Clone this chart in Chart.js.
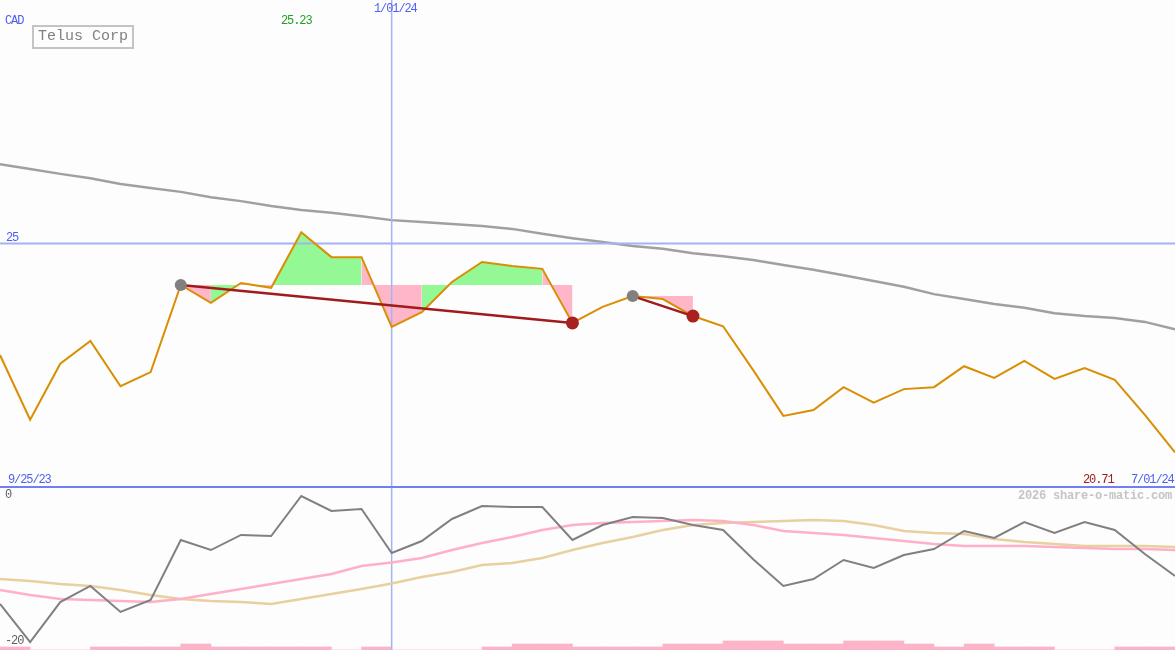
<!DOCTYPE html>
<html>
<head>
<meta charset="utf-8">
<script src="https://cdn.jsdelivr.net/npm/chart.js"></script>
<style>
  body { margin: 0; background: #fcfdfc; }
  #wrap { position: relative; width: 1175px; height: 650px; overflow: hidden; background: #fcfdfc; }
  canvas { position: absolute; left: 0; }
  .lbl { position: absolute; font-family: "Liberation Mono", "DejaVu Sans Mono", monospace; font-size: 12px; line-height: 12px; letter-spacing: -1.1px; white-space: nowrap; }
  .blue { color: #5060f0; }
  #sep { position: absolute; left: 0; top: 486px; width: 1175px; height: 2px; background: #7080f0; }
  #title { position: absolute; left: 32px; top: 25px; width: 94px; height: 20px; border: 2px solid #c4c4c4;
           font-family: "Liberation Mono", monospace; font-size: 15px; line-height: 20px; color: #808080; padding-left: 4px; box-sizing: content-box; }
  #credit { position: absolute; left: 1018px; top: 490px; font-family: "Liberation Mono", monospace; font-weight: bold;
            font-size: 12px; line-height: 12px; letter-spacing: -0.2px; color: #c4c4c4; white-space: nowrap; }
</style>
</head>
<body>
<div id="wrap">
  <canvas id="priceChart" width="1175" height="487" style="top:0"></canvas>
  <canvas id="oscChart" width="1175" height="163" style="top:487px"></canvas>
  <div id="sep"></div>
  <div class="lbl blue" style="left:5px;top:15px">CAD</div>
  <div id="title">Telus Corp</div>
  <div class="lbl" style="left:281px;top:15px;color:#22a022">25.23</div>
  <div class="lbl blue" style="left:374px;top:3px">1/01/24</div>
  <div class="lbl blue" style="left:6px;top:232px">25</div>
  <div class="lbl blue" style="left:8px;top:474px">9/25/23</div>
  <div class="lbl" style="left:1083px;top:474px;color:#a02020">20.71</div>
  <div class="lbl blue" style="left:1131px;top:474px">7/01/24</div>
  <div id="credit">2026 share-o-matic.com</div>
  <div class="lbl" style="left:5px;top:489px;color:#606060">0</div>
  <div class="lbl" style="left:5px;top:635px;color:#606060">-20</div>
</div>
<script>
// weekly closes, 9/25/23 .. 7/01/24
var price = [22.71, 21.38, 22.53, 23.00, 22.07, 22.36, 24.15, 23.78, 24.19, 24.09,
             25.23, 24.72, 24.72, 23.29, 23.59, 24.21, 24.62, 24.54, 24.48, 23.37,
             23.70, 23.92, 23.86, 23.51, 23.30, 22.40, 21.46, 21.58, 22.05, 21.73,
             22.01, 22.05, 22.48, 22.24, 22.59, 22.22, 22.44, 22.20, 21.48, 20.71];
var movingAvg = [26.63, 26.53, 26.43, 26.34, 26.22, 26.14, 26.06, 25.95, 25.87, 25.77,
                 25.69, 25.63, 25.56, 25.48, 25.44, 25.40, 25.36, 25.30, 25.20, 25.11,
                 25.03, 24.95, 24.89, 24.80, 24.74, 24.66, 24.56, 24.46, 24.35, 24.23,
                 24.11, 23.96, 23.86, 23.76, 23.68, 23.57, 23.51, 23.47, 23.39, 23.24];
var osc = [-15.07, -19.97, -14.82, -12.75, -16.10, -14.56, -6.83, -8.12, -6.18, -6.31,
           -1.16, -3.09, -2.83, -8.50, -6.96, -4.12, -2.45, -2.58, -2.58, -6.83,
           -4.90, -3.87, -3.99, -4.90, -5.54, -9.30, -12.75, -11.85, -9.40, -10.44,
           -8.76, -7.99, -5.67, -6.57, -4.51, -5.93, -4.51, -5.54, -8.63, -11.47];
var oscFast = [-13.27, -13.91, -14.43, -14.56, -14.69, -14.82, -14.43, -13.79, -13.14, -12.50,
               -11.85, -11.21, -10.18, -9.72, -9.15, -8.12, -7.21, -6.44, -5.54, -4.90,
               -4.64, -4.51, -4.38, -4.25, -4.38, -4.90, -5.67, -5.93, -6.18, -6.57,
               -6.96, -7.34, -7.60, -7.60, -7.60, -7.73, -7.86, -7.99, -7.99, -8.12];
var oscSlow = [-11.85, -12.11, -12.50, -12.75, -13.27, -13.91, -14.43, -14.69, -14.82, -15.07,
               -14.43, -13.79, -13.14, -12.44, -11.59, -10.95, -10.05, -9.79, -9.15, -8.12,
               -7.21, -6.44, -5.54, -4.90, -4.64, -4.51, -4.38, -4.25, -4.38, -4.90,
               -5.67, -5.93, -6.06, -6.70, -7.09, -7.34, -7.60, -7.60, -7.60, -7.73];
// volume bucket for each week interval
var volume = [1, 0, 0, 1, 1, 1, 2, 1, 1, 1, 1, 0, 1, 0, 0, 0, 1, 2, 2, 1,
              1, 1, 2, 2, 3, 3, 2, 2, 3, 3, 2, 1, 2, 1, 1, 0, 0, 1, 1];
// swing high -> breakdown signals (week indexes)
var signalStart = [6, 21];
var signalEnd = [19, 23];
var markedWeek = 13;   // 1/01/24
var refPrice = 25;

var upColor = '#94f894', downColor = '#ffb6c8';

function pts(values) {
  return values.map(function (v, i) { return { x: i, y: v }; });
}

// one fill dataset per run of weeks closing on the same side of the level
function fillRuns(s, e, level) {
  var sets = [];
  var run = null;
  for (var i = s; i < e; i++) {
    var color = price[i + 1] >= level ? upColor : downColor;
    if (!run || run.backgroundColor !== color) {
      run = {
        data: [{ x: i, y: price[i] }],
        borderColor: 'rgba(0,0,0,0)', borderWidth: 0, pointRadius: 0,
        fill: { value: level }, backgroundColor: color, order: 6
      };
      sets.push(run);
    }
    run.data.push({ x: i + 1, y: price[i + 1] });
  }
  return sets;
}

function buildPriceDatasets() {
  var sets = [];
  var last = price.length - 1;

  signalStart.forEach(function (s, k) {
    var e = signalEnd[k];
    sets = sets.concat(fillRuns(s, e, price[s]));
    sets.push({
      data: [{ x: s, y: price[s] }, { x: e, y: price[e] }],
      borderColor: '#a01c1c', borderWidth: 2.5, pointRadius: 0, fill: false, order: 1
    });
    sets.push({
      data: [{ x: s, y: price[s] }],
      showLine: false, pointRadius: 6, pointBackgroundColor: '#808080', pointBorderWidth: 0, order: 0
    });
    sets.push({
      data: [{ x: e, y: price[e] }],
      showLine: false, pointRadius: 6.5, pointBackgroundColor: '#a82020', pointBorderWidth: 0, order: 0
    });
  });

  sets.push({ data: pts(price), borderColor: '#d98e04', borderWidth: 2, pointRadius: 0, fill: false, order: 2 });
  sets.push({ data: [{ x: 0, y: refPrice }, { x: last, y: refPrice }], borderColor: '#a4b2f8', borderWidth: 2, pointRadius: 0, order: 4 });
  sets.push({ data: [{ x: markedWeek, y: 20 }, { x: markedWeek, y: 30 }], borderColor: '#a4b2f8', borderWidth: 1.5, pointRadius: 0, order: 4 });
  sets.push({ data: pts(movingAvg), borderColor: '#a0a0a0', borderWidth: 2.5, pointRadius: 0, fill: false, order: 5 });
  return sets;
}

function baseOptions(ymin, ymax) {
  return {
    responsive: false,
    animation: false,
    events: [],
    layout: { padding: 0, autoPadding: false },
    plugins: { legend: { display: false }, tooltip: { enabled: false } },
    elements: { line: { tension: 0 } },
    scales: {
      x: { type: 'linear', min: 0, max: price.length - 1, offset: false, display: false },
      y: { type: 'linear', min: ymin, max: ymax, display: false }
    }
  };
}

function drawPrice() {
  new Chart(document.getElementById('priceChart'), {
    type: 'line',
    data: { datasets: buildPriceDatasets() },
    options: baseOptions(20, 30)
  });
}

function drawOsc() {
  var opts = baseOptions(-21, 0);
  opts.scales.yv = { type: 'linear', min: 0, max: 54, display: false };
  var bars = volume.map(function (v, i) { return { x: i + 0.5, y: v }; });

  new Chart(document.getElementById('oscChart'), {
    type: 'line',
    data: {
      datasets: [
        { data: pts(osc), borderColor: '#808080', borderWidth: 2, pointRadius: 0, fill: false, order: 1 },
        { data: pts(oscFast), borderColor: '#ffb0c8', borderWidth: 2.5, pointRadius: 0, fill: false, order: 2 },
        { data: pts(oscSlow), borderColor: '#e8d0a0', borderWidth: 2.5, pointRadius: 0, fill: false, order: 3 },
        { data: [{ x: markedWeek, y: -21 }, { x: markedWeek, y: 0 }], borderColor: '#a4b2f8', borderWidth: 1.5, pointRadius: 0, order: 4 },
        { type: 'bar', data: bars, yAxisID: 'yv', backgroundColor: '#fcb4c8', borderWidth: 0,
          barPercentage: 1, categoryPercentage: 1, order: 5 }
      ]
    },
    options: opts
  });
}

drawPrice();
drawOsc();
</script>
</body>
</html>
